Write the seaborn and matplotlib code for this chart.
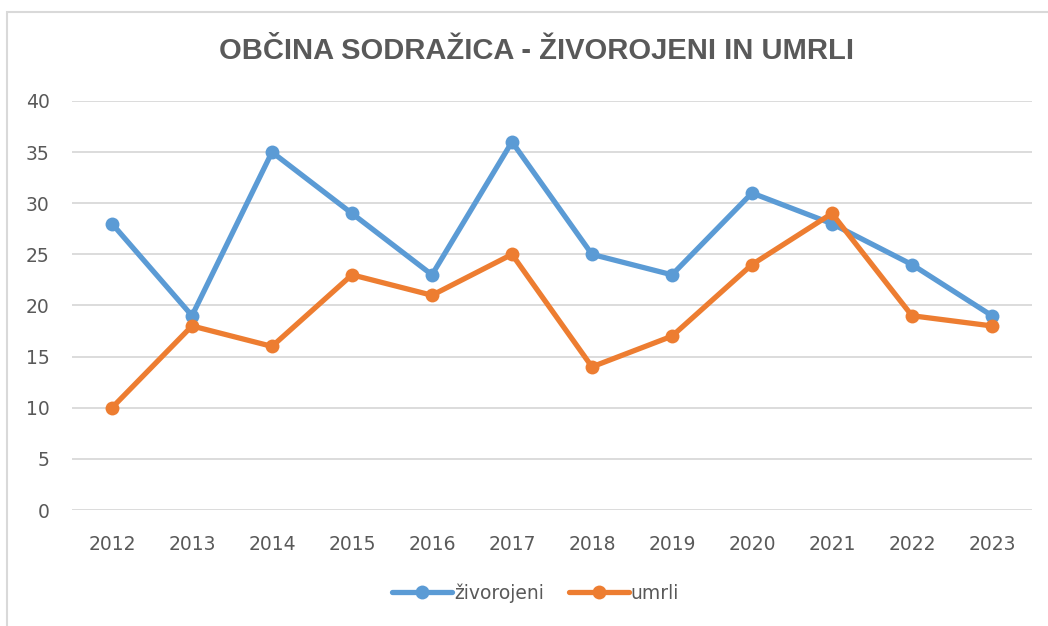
import pandas as pd
import seaborn as sns
import matplotlib.pyplot as plt
from matplotlib.patches import Rectangle

years = ['2012', '2013', '2014', '2015', '2016', '2017', '2018', '2019', '2020', '2021', '2022', '2023']
zivorojeni = [28, 19, 35, 29, 23, 36, 25, 23, 31, 28, 24, 19]
umrli = [10, 18, 16, 23, 21, 25, 14, 17, 24, 29, 19, 18]

df = pd.DataFrame({
    'Leto': years * 2,
    'Število': zivorojeni + umrli,
    'Serija': ['živorojeni'] * len(years) + ['umrli'] * len(years),
})

sns.set_style('white')
plt.rcParams['font.family'] = ['DejaVu Sans']
gray = '#595959'

fig = plt.figure(figsize=(10.48, 6.26), dpi=100)
ax = fig.add_axes([0.0687, 0.1853, 0.916, 0.6534])

sns.lineplot(data=df, x='Leto', y='Število', hue='Serija', ax=ax,
             palette={'živorojeni': '#5B9BD5', 'umrli': '#ED7D31'},
             marker='o', markersize=10, markeredgewidth=0, linewidth=3.8,
             zorder=3)

ax.set_ylim(0, 40)
ax.set_xlim(-0.5, len(years) - 0.5)
ax.set_yticks(range(0, 41, 5))
ax.yaxis.grid(True, color='#D9D9D9', linewidth=1.3)
ax.xaxis.grid(False)
for s in ax.spines.values():
    s.set_visible(False)
ax.tick_params(axis='both', length=0, labelsize=13.5, labelcolor=gray)
ax.tick_params(axis='y', pad=16)
ax.tick_params(axis='x', pad=18)
ax.set_xlabel('')
ax.set_ylabel('')

ax.legend(loc='center', bbox_to_anchor=(0.483, -0.203), ncol=2, frameon=False,
          fontsize=13.5, labelcolor=gray, handlelength=3.2, handletextpad=0.1,
          columnspacing=1.3)

fig.text(0.512, 0.918, 'OBČINA SODRAŽICA - ŽIVOROJENI IN UMRLI', ha='center', va='center',
         fontsize=21, fontweight='bold', color=gray, family='Liberation Sans')

fig.patches.append(Rectangle((7 / 1048, -0.1), 1.2, (626 - 12) / 626 + 0.1,
                             transform=fig.transFigure, fill=False,
                             edgecolor='#D9D9D9', linewidth=1.5))

plt.savefig('out.png', dpi=100)
